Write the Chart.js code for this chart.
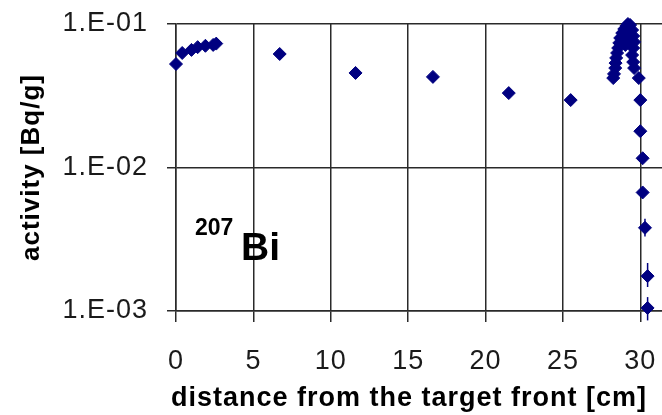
<!DOCTYPE html>
<html>
<head>
<meta charset="utf-8">
<script src="https://cdn.jsdelivr.net/npm/chart.js@4"></script>
<style>
 body { margin: 0; background: #fff; }
 #wrap { width: 662px; height: 415px; }
</style>
</head>
<body>
<div id="wrap"><canvas id="myChart" width="662" height="415"></canvas></div>
<script>
// distance along the target [cm] and measured 207Bi activity [Bq/g]
const distance = [0, 0.4, 1.0, 1.4, 1.9, 2.4, 2.6, 6.7, 11.6, 16.6, 21.5, 25.5,
 28.25, 28.3, 28.38, 28.4, 28.44, 28.5, 28.57, 28.64, 28.7, 28.83, 28.96, 29.1, 29.2, 29.34,
 29.47, 29.54, 29.6, 29.54, 29.47, 29.54, 29.6, 29.15, 29.03, 29.27,
 29.9, 30.0, 30.0, 30.15, 30.15, 30.3, 30.47, 30.47];
const activity = [0.0526, 0.0628, 0.0660, 0.0690, 0.0705, 0.0715, 0.0730, 0.0618, 0.0456, 0.0428, 0.0330, 0.0295,
 0.0420, 0.0449, 0.0493, 0.0534, 0.0580, 0.0628, 0.0680, 0.0738, 0.0799, 0.0865, 0.0923, 0.0969, 0.1000, 0.0984,
 0.0908, 0.0825, 0.0750, 0.0680, 0.0608, 0.0543, 0.0493, 0.0838, 0.0714, 0.0774,
 0.0420, 0.0295, 0.0179, 0.0116, 0.0067, 0.0038, 0.00175, 0.00105];
// uncertainty bars on the lowest points: [distance, low, high]
const errorBars = [
 [30.3, 0.0033, 0.0044],
 [30.47, 0.00147, 0.00216],
 [30.47, 0.00086, 0.00125]
];
const xTicks = [0, 5, 10, 15, 20, 25, 30];
const yTicks = [0.001, 0.01, 0.1];

const markColor = '#000080';
const lineColor = '#2a2a2a';

// isotope tag, horizontal axis title and error bars
const overlay = {
 id: 'overlay',
 beforeUpdate(chart) { chart.ctx.letterSpacing = '1px'; },
 beforeDraw(chart) { chart.ctx.letterSpacing = '1px'; },
 afterDatasetsDraw(chart) {
  const ctx = chart.ctx;
  const x = chart.scales.x, y = chart.scales.y;
  const area = chart.chartArea;
  ctx.save();
  ctx.strokeStyle = markColor;
  ctx.lineWidth = 1.5;
  errorBars.forEach(function(e) {
   const px = x.getPixelForValue(e[0]);
   ctx.beginPath();
   ctx.moveTo(px, y.getPixelForValue(e[1]));
   ctx.lineTo(px, y.getPixelForValue(e[2]));
   ctx.stroke();
  });

  ctx.fillStyle = '#000';
  ctx.textBaseline = 'alphabetic';
  ctx.textAlign = 'left';
  ctx.letterSpacing = '0px';
  ctx.font = 'bold 23px "Liberation Sans"';
  ctx.fillText('207', area.left + 19, 235);
  ctx.font = 'bold 39px "Liberation Sans"';
  ctx.fillText('Bi', area.left + 65, 260);

  ctx.letterSpacing = '1px';
  ctx.textAlign = 'center';
  ctx.font = 'bold 27px "Liberation Sans"';
  ctx.fillText('distance from the target front [cm]', area.left + 233, 406);
  ctx.restore();
 }
};

const ctx = document.getElementById('myChart').getContext('2d');
const myChart = new Chart(ctx, {
 type: 'scatter',
 data: {
  datasets: [{
   label: '207Bi',
   data: distance.map((d, i) => ({ x: d, y: activity[i] })),
   backgroundColor: markColor,
   borderColor: markColor,
   borderWidth: 1,
   pointStyle: 'rectRot',
   pointRadius: 6.5,
   pointHoverRadius: 6.5,
   clip: false
  }]
 },
 options: {
  responsive: false,
  animation: false,
  events: [],
  layout: { autoPadding: false, padding: { top: 24, right: 0, left: 0, bottom: 0 } },
  plugins: {
   legend: { display: false },
   tooltip: { enabled: false }
  },
  scales: {
   x: {
    type: 'linear',
    min: 0,
    max: 31.4,
    afterBuildTicks: function(scale) {
     scale.ticks = xTicks.map(v => ({ value: v }));
    },
    afterFit: function(scale) {
     scale.height = 104;
     scale.paddingLeft = 0;
     scale.paddingRight = 0;
    },
    grid: {
     color: lineColor,
     lineWidth: 1.5,
     tickLength: 11,
     drawOnChartArea: true
    },
    border: { color: lineColor, width: 1.5 },
    ticks: {
     color: '#1a1a1a',
     padding: 23,
     maxRotation: 0,
     font: { family: '"Liberation Sans"', size: 27 }
    }
   },
   y: {
    type: 'logarithmic',
    min: 0.001,
    max: 0.1,
    afterBuildTicks: function(scale) {
     scale.ticks = yTicks.map(v => ({ value: v }));
    },
    afterFit: function(scale) {
     scale.width = 176;
     scale.paddingTop = 0;
     scale.paddingBottom = 0;
    },
    grid: {
     color: lineColor,
     lineWidth: 1.5,
     tickLength: 9
    },
    border: { color: lineColor, width: 1.5 },
    ticks: {
     color: '#1a1a1a',
     padding: 19,
     font: { family: '"Liberation Sans"', size: 27 },
     callback: function(v) {
      return '1.E-0' + Math.round(-Math.log10(v));
     }
    },
    title: {
     display: true,
     text: 'activity [Bq/g]',
     color: '#000',
     padding: { top: 16, bottom: 0 },
     font: { family: '"Liberation Sans"', size: 26, weight: 'bold' }
    }
   }
  }
 },
 plugins: [overlay]
});
</script>
</body>
</html>
